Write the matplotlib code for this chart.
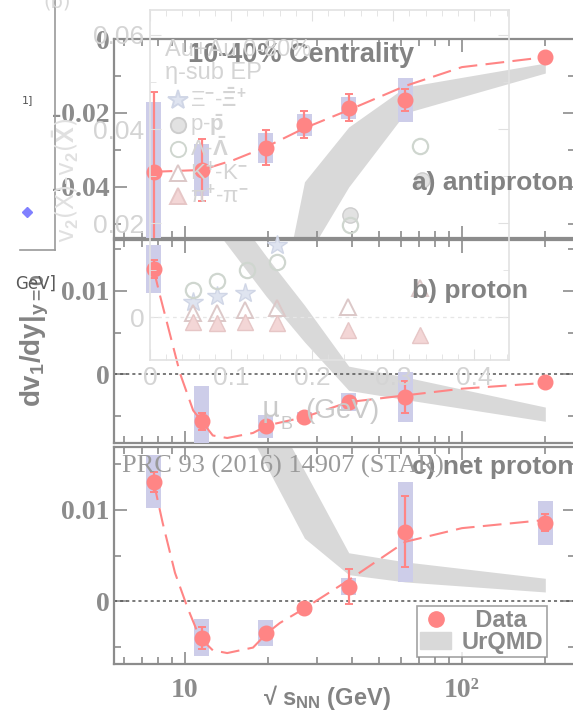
import numpy as np
import matplotlib
matplotlib.use("Agg")
import matplotlib.pyplot as plt
from matplotlib.lines import Line2D
from matplotlib.patches import Patch, Rectangle
from matplotlib.ticker import LogLocator, NullFormatter, MultipleLocator

plt.rcParams['axes.unicode_minus'] = False
plt.rcParams['mathtext.fontset'] = 'custom'
plt.rcParams['mathtext.rm'] = 'Liberation Sans:bold'
plt.rcParams['mathtext.bf'] = 'Liberation Sans:bold'
plt.rcParams['mathtext.it'] = 'Liberation Sans:bold'

# ---- data: sqrt(s_NN) energies
energy = [7.7, 11.5, 19.6, 27, 39, 62.4, 200]

# a) antiproton
anti_v1 = [-0.0360, -0.0354, -0.0294, -0.0232, -0.0186, -0.0165, -0.0049]
anti_stat = [0.0216, 0.0085, 0.0047, 0.0036, 0.0036, 0.0030, 0.0]
anti_sys = [0.0190, 0.0070, 0.0040, 0.0030, 0.0030, 0.0060, 0.0]

# b) proton
prot_v1 = [0.0126, -0.0056, -0.0062, -0.0051, -0.0033, -0.0027, -0.0009]
prot_stat = [0.0011, 0.0010, 0.0, 0.0, 0.0, 0.0019, 0.0]
prot_sys = [0.0029, 0.0042, 0.0014, 0.0006, 0.0011, 0.0030, 0.0]

# c) net proton
net_v1 = [0.0131, -0.0040, -0.0035, -0.0008, 0.0016, 0.0076, 0.0086]
net_stat = [0.0011, 0.0012, 0.0, 0.0, 0.0019, 0.0039, 0.0009]
net_sys = [0.0029, 0.0020, 0.0014, 0.0004, 0.0009, 0.0055, 0.0024]

# dashed guide curves
anti_fit_e = [7.7, 11.5, 15, 19.6, 27, 39, 62.4, 100, 200]
anti_fit_v = [-0.0359, -0.0354, -0.0327, -0.0292, -0.0241, -0.0192, -0.0127, -0.0076, -0.0049]
prot_fit_e = [7.7, 8.1, 9.6, 10.7, 12.6, 14.2, 17.6, 19.8, 27, 39, 62.4, 100, 200]
prot_fit_v = [0.0126, 0.0096, 0.0001, -0.0043, -0.0073, -0.0076, -0.0070, -0.0061,
              -0.0051, -0.0033, -0.0025, -0.0017, -0.0010]
net_fit_e = [7.7, 8.3, 9.2, 10.2, 11.3, 12.6, 14.2, 17.6, 19.8, 22, 27, 39, 62.4, 100, 200]
net_fit_v = [0.0131, 0.0086, 0.0031, -0.0007, -0.0040, -0.0054, -0.0057, -0.0051,
             -0.0035, -0.0024, -0.0008, 0.0023, 0.0065, 0.0080, 0.0089]

# UrQMD bands
anti_urqmd_e = [19.6, 27, 39, 62.4, 200]
anti_urqmd_hi = [-0.090, -0.0386, -0.0238, -0.0130, -0.0065]
anti_urqmd_lo = [-0.120, -0.0600, -0.0400, -0.0200, -0.0092]
prot_urqmd_e = [11.5, 19.6, 27, 39, 62.4, 200]
prot_urqmd_hi = [0.0246, 0.0142, 0.0083, 0.0010, -0.0003, -0.0039]
prot_urqmd_lo = [0.0195, 0.0094, 0.0039, -0.0019, -0.0030, -0.0056]
net_urqmd_e = [11.5, 19.6, 27, 39, 62.4, 200]
net_urqmd_hi = [0.035, 0.0220, 0.0143, 0.0053, 0.0043, 0.0025]
net_urqmd_lo = [0.0285, 0.0149, 0.0069, 0.0029, 0.0021, 0.0010]

# faded background figure (v2 difference vs mu_B)
bg_xi_mu = [0.053, 0.083, 0.117, 0.157]
bg_xi_v = [0.0032, 0.0045, 0.0051, 0.0153]
bg_p_mu = [0.247, 0.336]
bg_p_v = [0.0217, 0.0291]
bg_lam_mu = [0.053, 0.083, 0.120, 0.157, 0.247, 0.333]
bg_lam_v = [0.0057, 0.0077, 0.0100, 0.0117, 0.0196, 0.0364]
bg_k_mu = [0.053, 0.083, 0.117, 0.157, 0.244, 0.333]
bg_k_v = [0.0009, 0.0009, 0.0015, 0.0019, 0.0021, 0.0062]
bg_pi_mu = [0.053, 0.083, 0.117, 0.157, 0.244, 0.333]
bg_pi_v = [-0.0011, -0.0013, -0.0011, -0.0013, -0.0028, -0.0038]

RED = '#ff8585'
BOX = '#cdcde9'
BAND = '#d9d9d9'
AXC = '#8c8c8c'
W, H = 573, 721

fig = plt.figure(figsize=(W / 100, H / 100), dpi=100)


def px(x, y):
    return x / W, 1 - y / H


def panel(top, bottom):
    ax = fig.add_axes([114 / W, 1 - bottom / H, 461 / W, (bottom - top) / H])
    ax.set_xscale('log')
    ax.set_xlim(5.54, 256)
    for s in ax.spines.values():
        s.set_color(AXC)
        s.set_linewidth(1.6)
    ax.tick_params(which='both', direction='in', top=True, right=True,
                   colors=AXC, width=1.2)
    ax.tick_params(which='major', length=9, pad=3)
    ax.tick_params(which='minor', length=5)
    ax.xaxis.set_major_locator(LogLocator(base=10))
    ax.xaxis.set_minor_locator(LogLocator(base=10, subs=np.arange(2, 10)))
    ax.xaxis.set_minor_formatter(NullFormatter())
    return ax


def draw(ax, v1, stat, sys, fe, fv, be, bhi, blo):
    ax.fill_between(be, blo, bhi, color=BAND, lw=0, zorder=1)
    ax.axhline(0, color='#555555', ls=(0, (2, 2)), lw=1.1, zorder=2)
    for e, v, s in zip(energy, v1, sys):
        if s > 0:
            ax.add_patch(Rectangle((e / 1.064, v - s), e * 1.064 - e / 1.064, 2 * s,
                                   color=BOX, lw=0, zorder=3))
    ax.plot(fe, fv, color=RED, lw=1.5, ls=(0, (9, 4)), zorder=4)
    ax.errorbar(energy, v1, yerr=stat, fmt='o', color=RED, ms=10.5, elinewidth=1.6,
                capsize=3, capthick=1.4, zorder=5)


def ylabels(ax, ticks, labels):
    ax.set_yticks(ticks)
    ax.set_yticklabels(labels, family='Liberation Serif', weight='bold',
                       fontsize=20, color=AXC)


ax1 = panel(39, 238)
draw(ax1, anti_v1, anti_stat, anti_sys, anti_fit_e, anti_fit_v,
     anti_urqmd_e, anti_urqmd_hi, anti_urqmd_lo)
ax1.set_ylim(-0.0538, 0.0)
ylabels(ax1, [0, -0.02, -0.04], ['0', '-0.02', '-0.04'])
ax1.yaxis.set_minor_locator(MultipleLocator(0.01))
ax1.set_xticklabels([])

ax2 = panel(240, 443)
draw(ax2, prot_v1, prot_stat, prot_sys, prot_fit_e, prot_fit_v,
     prot_urqmd_e, prot_urqmd_hi, prot_urqmd_lo)
ax2.set_ylim(-0.0082, 0.0161)
ylabels(ax2, [0, 0.01], ['0', '0.01'])
ax2.yaxis.set_minor_locator(MultipleLocator(0.005))
ax2.set_xticklabels([])

ax3 = panel(447, 664)
draw(ax3, net_v1, net_stat, net_sys, net_fit_e, net_fit_v,
     net_urqmd_e, net_urqmd_hi, net_urqmd_lo)
ax3.set_ylim(-0.0069, 0.0169)
ylabels(ax3, [0, 0.01], ['0', '0.01'])
ax3.yaxis.set_minor_locator(MultipleLocator(0.005))
ax3.set_xticks([10, 100])
ax3.set_xticklabels(['10', '10²'], family='Liberation Serif', weight='bold',
                    fontsize=20, color=AXC)
ax3.tick_params(axis='x', which='major', pad=10)
ax3.set_xlim(5.54, 256)

handles = [Line2D([], [], marker='o', color=RED, ls='none', ms=11),
           Patch(color=BAND)]
leg = ax3.legend(handles, ['  Data', 'UrQMD'], loc='lower left',
                 bbox_to_anchor=(0.657, 0.03), borderaxespad=0,
                 frameon=True, fancybox=False, edgecolor=AXC,
                 labelspacing=-0.05, handlelength=1.3, handleheight=0.75,
                 borderpad=0.15, handletextpad=0.45,
                 prop={'family': 'Liberation Sans', 'weight': 'bold', 'size': 17})
leg.get_frame().set_linewidth(1.2)
for t in leg.get_texts():
    t.set_color('#8a8a8a')

# panel labels
tk = dict(weight='bold', color='#838383')
sans = ['Liberation Sans', 'DejaVu Sans']
fig.text(*px(301, 55), '10-40% Centrality', fontsize=19.5, ha='center', va='center',
         family=sans, **tk)
fig.text(*px(412, 183), 'a) antiproton', fontsize=19, ha='left', va='center',
         family=sans, **tk)
fig.text(*px(412, 291), 'b) proton', fontsize=19, ha='left', va='center',
         family=sans, **tk)
fig.text(*px(412, 467), 'c) net proton', fontsize=19, ha='left', va='center',
         family=sans, **tk)
fig.text(*px(35, 340), r'dv$_1$/dy|$_{y=0}$', fontsize=20, rotation=90,
         ha='center', va='center', family=sans, **tk)
fig.text(*px(327, 697), '√ s$_{NN}$ (GeV)', fontsize=17,
         ha='center', va='center', family=sans, **tk)

# ---- faded background figure
GC = '#d4d4d4'
bg = fig.add_axes([150 / W, 1 - 360 / H, 359 / W, 350 / H])
bg.patch.set_alpha(0)
bg.set_xlim(0, 0.443)
bg.set_ylim(-0.0091, 0.0653)
for s in bg.spines.values():
    s.set_color('#e2e2e2')
    s.set_linewidth(1.2)
bg.tick_params(which='both', direction='in', top=True, right=True, colors='#e0e0e0')
bg.tick_params(which='major', length=8, pad=4, labelsize=19, labelcolor=GC)
bg.tick_params(which='minor', length=4)
bg.set_xticks([0, 0.1, 0.2, 0.3, 0.4])
bg.set_xticklabels(['0', '0.1', '0.2', '0.3', '0.4'], family='Liberation Sans')
bg.xaxis.set_minor_locator(MultipleLocator(0.02))
bg.set_yticks([0, 0.02, 0.04, 0.06])
bg.set_yticklabels(['0', '0.02', '0.04', '0.06'], family='Liberation Sans')
bg.yaxis.set_minor_locator(MultipleLocator(0.01))
bg.axhline(0, color='#e6e6e6', ls=(0, (3, 3)), lw=0.9)
bg.plot(bg_xi_mu, bg_xi_v, '*', ms=15, color='#dfe4f0', mec='#d0d6e6')
bg.plot(bg_p_mu, bg_p_v, 'o', ms=11, color='#e2e2e2', mec='#cdcdcd')
bg.plot(bg_lam_mu, bg_lam_v, 'o', ms=11, mfc='none', mec='#cfd6cf', mew=1.6)
bg.plot(bg_k_mu, bg_k_v, '^', ms=11, mfc='none', mec='#dcc8c8', mew=1.4)
bg.plot(bg_pi_mu, bg_pi_v, '^', ms=11, color='#f3d6d6', mec='#e6c6c6')

gt = dict(family=['Liberation Sans', 'DejaVu Sans'], color=GC)
fig.text(*px(165, 50), 'Au+Au 0-80%', fontsize=17, va='center', **gt)
fig.text(*px(165, 73), 'η-sub EP', fontsize=17, va='center', **gt)
leg_rows = [('*', '#dfe4f0', '#d0d6e6', 'Ξ$^{-}$-$\\bar{Ξ}^{+}$', 100),
            ('o', '#e2e2e2', '#cdcdcd', 'p-$\\bar{p}$', 125),
            ('o', 'none', '#cfd6cf', 'Λ-$\\bar{Λ}$', 149),
            ('^', 'none', '#dcc8c8', 'K$^{+}$-K$^{-}$', 173),
            ('^', '#f3d6d6', '#e6c6c6', 'π$^{+}$-π$^{-}$', 196)]
for m, fc, ec, lab, y in leg_rows:
    fig.add_artist(Line2D([178 / W], [1 - y / H], marker=m, ms=15 if m == '*' else 11,
                          mfc=fc, mec=ec, mew=1.4, ls='none'))
    fig.text(*px(190, y), lab, fontsize=16, va='center', **gt)
fig.text(*px(262, 409), 'μ', fontsize=20, va='center', family='DejaVu Sans',
         color='#cacaca')
fig.text(*px(281, 425), 'B', fontsize=13, va='center', family='Liberation Sans',
         color='#cacaca')
fig.text(*px(305, 411), '(GeV)', fontsize=20, va='center', family='Liberation Sans',
         color='#cacaca')
fig.text(*px(122, 466), 'PRC 93 (2016) 14907 (STAR)', fontsize=19,
         family='Liberation Serif', color='#9a9a9a', va='center')

# leftover fragments at the left edge
fig.add_artist(Line2D([55 / W, 55 / W], [1, 1 - 250 / H], color='#9a9a9a', lw=1.2))
fig.add_artist(Line2D([20 / W, 55 / W], [1 - 250 / H] * 2, color='#9a9a9a', lw=1.2))
fig.text(*px(57, 2), '(b)', fontsize=14, color='#d8d8d8', ha='center', va='center')
fig.text(*px(22, 100), '1]', fontsize=8, color='#555555', va='center')
fig.text(*px(15, 284), 'GeV]', fontsize=12, color='#5a5a5a', va='center')
fig.text(*px(66, 180), 'v$_2$(X)-v$_2$($\\bar{X}$)', fontsize=17, rotation=90,
         color='#e0e0e0', ha='center', va='center', family='DejaVu Sans')
fig.add_artist(Line2D([27 / W], [1 - 212 / H], marker='D', ms=5, color='#8080ff'))

fig.savefig('out.png', dpi=100)
